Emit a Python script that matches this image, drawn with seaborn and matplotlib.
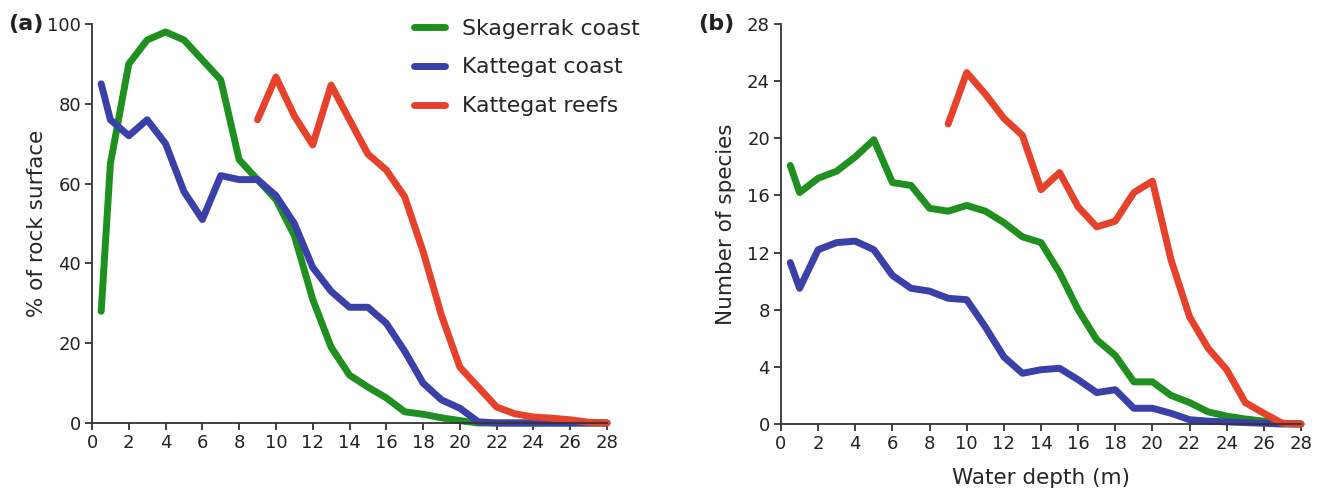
import numpy as np
import pandas as pd
import matplotlib
matplotlib.use("Agg")
import matplotlib.pyplot as plt
import seaborn as sns

# ---------------- data ----------------
depth = [0.5] + list(range(1, 29))          # 0.5, 1 ... 28
reef_depth = list(range(9, 29))             # 9 ... 28

series_names = ["Skagerrak coast", "Kattegat coast", "Kattegat reefs"]
colors = ["#1f8f1f", "#3a40a8", "#e5412b"]

# (a) % of rock surface
skag_cover = [28, 65, 90, 96, 98, 96, 91, 86, 66, 61, 56, 47, 31, 19, 12, 9,
              6.3, 2.8, 2.2, 1.3, 0.6, 0, 0, 0, 0, 0, 0, 0, 0]
katt_cover = [85, 76, 72, 76, 70, 58, 51, 62, 61, 61, 57, 50, 39, 33, 29, 29,
              25, 18, 10, 5.8, 3.7, 0.3, 0, 0, 0, 0, 0, 0, 0]
reef_cover = [76, 86.7, 77, 69.7, 84.7, 76, 67.4, 63.4, 56.7, 43, 27, 14, 9,
              4, 2.3, 1.5, 1.2, 0.8, 0.2, 0]

# (b) number of species
skag_species = [18.1, 16.2, 17.2, 17.7, 18.7, 19.9, 16.9, 16.7, 15.1, 14.9,
                15.3, 14.9, 14.1, 13.1, 12.7, 10.6, 8.0, 5.9, 4.8, 2.95, 2.95,
                2.0, 1.5, 0.85, 0.55, 0.35, 0.2, 0.05, 0]
katt_species = [11.3, 9.5, 12.2, 12.7, 12.8, 12.2, 10.4, 9.5, 9.3, 8.8, 8.7,
                6.8, 4.7, 3.55, 3.8, 3.9, 3.1, 2.2, 2.4, 1.1, 1.1, 0.75, 0.3,
                0.2, 0.15, 0.1, 0.05, 0, 0]
reef_species = [21, 24.6, 23.1, 21.4, 20.2, 16.4, 17.6, 15.2, 13.8, 14.2,
                16.2, 17, 11.5, 7.5, 5.3, 3.8, 1.5, 0.75, 0.05, 0]

xticks = list(range(0, 29, 2))
yticks_a = list(range(0, 101, 20))
yticks_b = list(range(0, 29, 4))


def long_frame(skag, katt, reef):
    parts = [
        pd.DataFrame({"depth": depth, "value": skag, "site": series_names[0]}),
        pd.DataFrame({"depth": depth, "value": katt, "site": series_names[1]}),
        pd.DataFrame({"depth": reef_depth, "value": reef, "site": series_names[2]}),
    ]
    return pd.concat(parts, ignore_index=True)


df_a = long_frame(skag_cover, katt_cover, reef_cover)
df_b = long_frame(skag_species, katt_species, reef_species)

# ---------------- style ----------------
sns.set_style("ticks")
plt.rcParams["font.family"] = ["DejaVu Sans"]
plt.rcParams["axes.edgecolor"] = "#333333"
plt.rcParams["xtick.color"] = "#333333"
plt.rcParams["ytick.color"] = "#333333"
plt.rcParams["xtick.labelcolor"] = "#222222"
plt.rcParams["ytick.labelcolor"] = "#222222"

W, H = 1320, 494
fig = plt.figure(figsize=(W / 100, H / 100), dpi=100)
ax_a = fig.add_axes([92 / W, 1 - 423 / H, (607 - 92) / W, (423 - 24) / H])
ax_b = fig.add_axes([781 / W, 1 - 424 / H, (1301 - 781) / W, (424 - 24) / H])

palette = dict(zip(series_names, colors))

for ax, df, yt in [(ax_a, df_a, yticks_a), (ax_b, df_b, yticks_b)]:
    sns.lineplot(data=df, x="depth", y="value", hue="site",
                 hue_order=series_names, palette=palette, linewidth=5,
                 estimator=None, sort=False, legend=(ax is ax_a), ax=ax,
                 solid_capstyle="round", solid_joinstyle="round")
    for ln in ax.lines:
        ln.set_clip_on(False)
    ax.set_xlim(0, 28)
    ax.set_ylim(yt[0], yt[-1])
    ax.set_xticks(xticks)
    ax.set_yticks(yt)
    ax.tick_params(axis="both", labelsize=13, length=5, width=1.3,
                   direction="out", pad=3)
    for s in ["left", "bottom"]:
        ax.spines[s].set_linewidth(1.3)
    sns.despine(ax=ax)

ax_a.set_xlabel("")
ax_a.set_ylabel("% of rock surface", fontsize=15.5)
ax_a.yaxis.set_label_coords(-0.088, 0.5)
ax_b.set_xlabel("Water depth (m)", fontsize=15.5, labelpad=11)
ax_b.set_ylabel("Number of species", fontsize=15.5)
ax_b.yaxis.set_label_coords(-0.086, 0.5)

# legend
handles, labels = ax_a.get_legend_handles_labels()
ax_a.get_legend().remove()
leg = fig.legend(handles, labels, loc="upper left",
                 bbox_to_anchor=(414 / W, 1 - 18.5 / H),
                 bbox_transform=fig.transFigure, frameon=False, fontsize=15.8,
                 handlelength=1.4, handletextpad=0.8, labelspacing=0.86,
                 borderpad=0, borderaxespad=0)
for h in leg.legend_handles:
    h.set_linewidth(5)
    h.set_solid_capstyle("round")

fig.text(8 / W, 1 - 24 / H, "(a)", fontsize=16, fontweight="bold",
         va="center", ha="left", color="#222222")
fig.text(698 / W, 1 - 24 / H, "(b)", fontsize=16, fontweight="bold",
         va="center", ha="left", color="#222222")

fig.savefig("out.png", dpi=100)
